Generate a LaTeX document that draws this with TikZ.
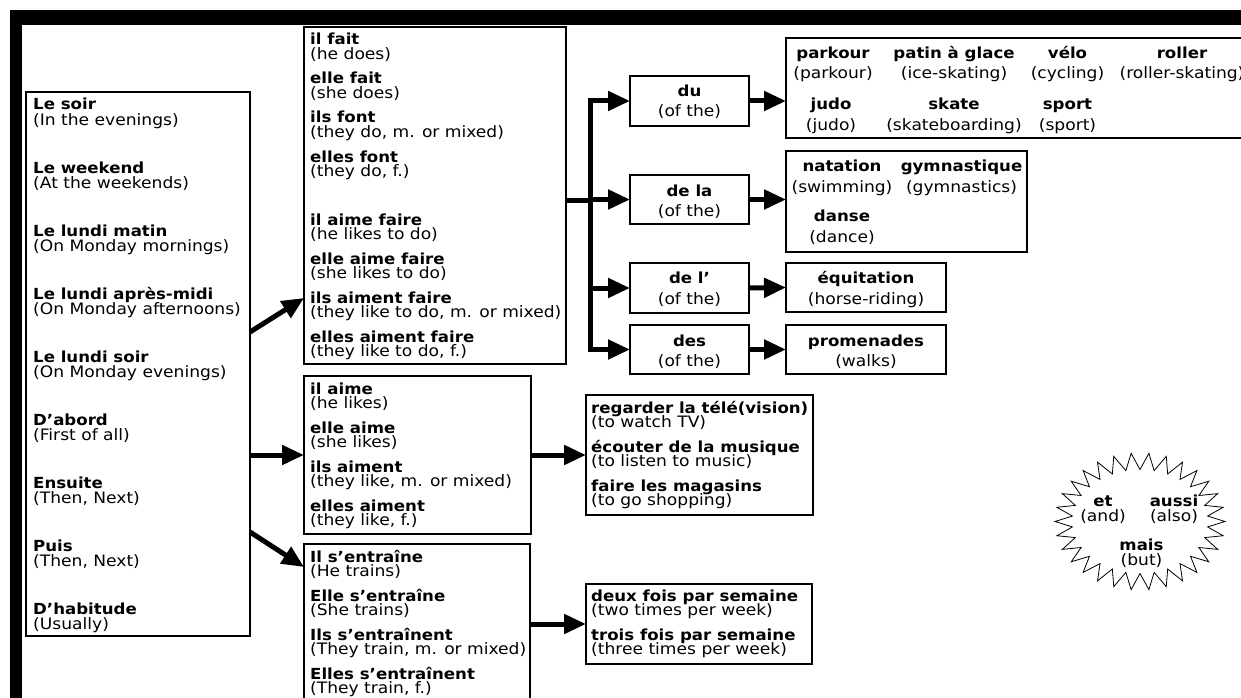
\documentclass[tikz,border=0pt]{standalone}
\usepackage{fontspec}
\usepackage{graphicx}
\setmainfont{DejaVu Sans}
\usetikzlibrary{arrows.meta,calc}
\newcommand\myfsb{\fontsize{16.6}{16}\selectfont}
\newcommand\myfsr{\fontsize{17.1}{16}\selectfont}
\newcommand\vsq[1]{\scalebox{1}[0.92]{#1}}
% bold/paren pair, left aligned: name, x, baseline y, bold, paren
\newcommand\lpair[5]{%
  \node[bl] (#1a) at (#2,#3) {\vsq{#4}};
  \node[rg] (#1b) at (#2,#3+14.5) {\vsq{#5}};}
\newcommand\lpairw[5]{%
  \node[bl] (#1a) at (#2,#3) {\vsq{#4}};
  \node[rg] (#1b) at (#2,#3+15) {\vsq{#5}};}
% centered pair: name, x, baseline y, gap, bold, paren
\newcommand\cpair[6]{%
  \node[bc] (#1a) at (#2,#3) {\vsq{#5}};
  \node[rc] (#1b) at (#2,#3+#4) {\vsq{#6}};}
\begin{document}
\begin{tikzpicture}[x=1pt,y=-1pt,
  box/.style={draw, line width=1.8pt, inner sep=0pt, outer sep=0pt, anchor=north west},
  bl/.style={anchor=base west, inner sep=0pt, font=\myfsb\bfseries},
  rg/.style={anchor=base west, inner sep=0pt, font=\myfsr},
  bc/.style={anchor=base, inner sep=0pt, font=\myfsb\bfseries},
  rc/.style={anchor=base, inner sep=0pt, font=\myfsr},
  arr/.style={line width=5pt, -{Triangle[length=22pt,width=19pt]}},
  trunk/.style={line width=5pt}]
\useasboundingbox (0,0) rectangle (1241,698);
\clip (0,0) rectangle (1241,698);
% page frame
\fill[black] (10,10) rectangle (1250,25);
\fill[black] (10,10) rectangle (22,710);
% boxes
\node[box, minimum width=224pt, minimum height=544pt] (b1) at (26,92) {};
\node[box, minimum width=262pt, minimum height=337pt] (b2) at (304,27) {};
\node[box, minimum width=227pt, minimum height=158pt] (b3) at (304,376) {};
\node[box, minimum width=226pt, minimum height=180pt] (b4) at (304,544) {};
\node[box, minimum width=227pt, minimum height=120pt] (b5) at (586,395) {};
\node[box, minimum width=226pt, minimum height=80pt] (b6) at (586,584) {};
\node[box, minimum width=119pt, minimum height=50pt] (du) at (630,76) {};
\node[box, minimum width=119pt, minimum height=49pt] (dela) at (630,175) {};
\node[box, minimum width=119pt, minimum height=50pt] (del) at (630,263) {};
\node[box, minimum width=119pt, minimum height=49pt] (des) at (630,325) {};
\node[box, minimum width=484pt, minimum height=100pt] (sp) at (786,38) {};
\node[box, minimum width=241pt, minimum height=101pt] (sp2) at (786,151) {};
\node[box, minimum width=160pt, minimum height=49pt] (equi) at (786,263) {};
\node[box, minimum width=160pt, minimum height=49pt] (prom) at (786,325) {};
% box 1
\lpairw{soir}{33}{110}{Le soir}{(In the evenings)}
\lpairw{wk}{33}{173}{Le weekend}{(At the weekends)}
\lpairw{lm}{33}{236}{Le lundi matin}{(On Monday mornings)}
\lpairw{la}{33}{299}{Le lundi après-midi}{(On Monday afternoons)}
\lpairw{ls}{33}{362}{Le lundi soir}{(On Monday evenings)}
\lpairw{ab}{33}{425}{D'abord}{(First of all)}
\lpairw{en}{33}{488}{Ensuite}{(Then, Next)}
\lpairw{pu}{33}{551}{Puis}{(Then, Next)}
\lpairw{ha}{33}{614}{D'habitude}{(Usually)}
% box 2
\lpair{fa}{310}{45}{il fait}{(he does)}
\lpair{fb}{310}{84}{elle fait}{(she does)}
\lpair{fc}{310}{123}{ils font}{(they do, m. or mixed)}
\lpair{fd}{310}{162}{elles font}{(they do, f.)}
\lpair{ga}{310}{225}{il aime faire}{(he likes to do)}
\lpair{gb}{310}{264}{elle aime faire}{(she likes to do)}
\lpair{gc}{310}{303}{ils aiment faire}{(they like to do, m. or mixed)}
\lpair{gd}{310}{342}{elles aiment faire}{(they like to do, f.)}
% box 3
\lpair{ha}{310}{394}{il aime}{(he likes)}
\lpair{hb}{310}{433}{elle aime}{(she likes)}
\lpair{hc}{310}{472}{ils aiment}{(they like, m. or mixed)}
\lpair{hd}{310}{511}{elles aiment}{(they like, f.)}
% box 4
\lpair{ea}{310}{562}{Il s'entraîne}{(He trains)}
\lpair{eb}{310}{601}{Elle s'entraîne}{(She trains)}
\lpair{ec}{310}{640}{Ils s'entraînent}{(They train, m. or mixed)}
\lpair{ed}{310}{679}{Elles s'entraînent}{(They train, f.)}
% box 5
\lpair{ra}{591}{413}{regarder la télé(vision)}{(to watch TV)}
\lpair{rb}{591}{452}{écouter de la musique}{(to listen to music)}
\lpair{rcc}{591}{491}{faire les magasins}{(to go shopping)}
% box 6
\lpair{sa}{591}{601}{deux fois par semaine}{(two times per week)}
\lpair{sb}{591}{640}{trois fois par semaine}{(three times per week)}
% small boxes
\cpair{tdu}{689.5}{97}{20}{du}{(of the)}
\cpair{tdela}{689.5}{196}{20}{de la}{(of the)}
\cpair{tdel}{689.5}{283}{21}{de l'}{(of the)}
\cpair{tdes}{689.5}{346}{20}{des}{(of the)}
% sports
\cpair{pk}{833}{59}{20}{parkour}{(parkour)}
\cpair{pg}{954}{59}{20}{patin à glace}{(ice-skating)}
\cpair{ve}{1067.5}{59}{20}{vélo}{(cycling)}
\cpair{ro}{1182}{59}{20}{roller}{(roller-skating)}
\cpair{ju}{831}{110}{20}{judo}{(judo)}
\cpair{sk}{954}{110}{20}{skate}{(skateboarding)}
\cpair{spo}{1067.5}{110}{20}{sport}{(sport)}
\cpair{na}{842}{171.5}{21}{natation}{(swimming)}
\cpair{gy}{961.5}{171.5}{21}{gymnastique}{(gymnastics)}
\cpair{da}{842}{221.5}{21}{danse}{(dance)}
\cpair{eq}{866}{283}{21}{équitation}{(horse-riding)}
\cpair{pr}{866}{346}{20}{promenades}{(walks)}
% starburst
\coordinate (star) at (1140,521.5);
\draw[line width=0.8pt, line join=miter]
  plot[samples at={0,...,59}, variable=\i]
  ({1140+(85-17*mod(\i,2))*cos(\i*6)}, {521.5+(68.5-16.5*mod(\i,2))*sin(\i*6)}) -- cycle;
\cpair{et}{1103}{506.5}{14.5}{et}{(and)}
\cpair{au}{1174}{506.5}{14.5}{aussi}{(also)}
\cpair{ma}{1141.5}{550}{15}{mais}{(but)}
% connectors
\coordinate (t) at (590,200);
\draw[trunk] (b2.east |- t) -- (t);
\draw[trunk, line cap=rect] (t |- du.west) -- (t |- des.west);
\draw[arr] (t |- du.west) -- (du.west);
\draw[arr] (t |- dela.west) -- (dela.west);
\draw[arr] (t |- del.west) -- (del.west);
\draw[arr] (t |- des.west) -- (des.west);
\draw[arr] (du.east) -- (du.east -| sp.west);
\draw[arr] (dela.east) -- (dela.east -| sp2.west);
\draw[arr] (del.east) -- (equi.west);
\draw[arr] (des.east) -- (prom.west);
\draw[arr] ($(b1.north east)+(0,240)$) -- ($(b2.north west)+(0,271)$);
\draw[arr] (b1.east |- b3.west) -- (b3.west);
\draw[arr] ($(b1.north east)+(0,440)$) -- ($(b4.north west)+(0,23)$);
\draw[arr] (b3.east) -- (b5.west);
\draw[arr] (b6.west -| b4.east) -- (b6.west);
\end{tikzpicture}
\end{document}
